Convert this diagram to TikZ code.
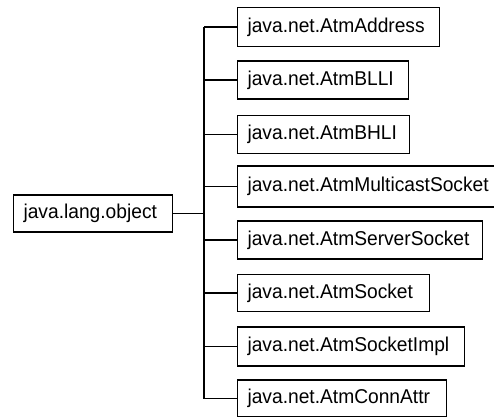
\documentclass[tikz,border=0pt]{standalone}
\usepackage{fontspec}
\setmainfont{Liberation Sans}[FakeStretch=0.96]
\begin{document}
\begin{tikzpicture}[x=1pt,y=-1pt,
  cls/.style={draw=black, line width=1.1pt, anchor=west, inner xsep=10pt, inner ysep=0pt,
    minimum height=39pt, align=left, font=\fontsize{20}{22}\selectfont},
  wire/.style={draw=black, line width=1.1pt}]
\useasboundingbox (0,0) rectangle (494,416);
\clip (0,0) rectangle (494,416);
\node[cls, text width=182pt] (b1) at (237,27) {java.net.AtmAddress};
\node[cls, text width=151pt, minimum height=38pt] (b2) at (237,80) {java.net.AtmBLLI};
\node[cls, text width=152pt, minimum height=38pt] (b3) at (237,134.5) {java.net.AtmBHLI};
\node[cls, text width=250pt, minimum height=41pt] (b4) at (237,186.5) {java.net.AtmMulticastSocket};
\node[cls, text width=225pt, minimum height=38pt] (b5) at (237,240) {java.net.AtmServerSocket};
\node[cls, text width=172pt, minimum height=37pt] (b6) at (237,293) {java.net.AtmSocket};
\node[cls, text width=207pt] (b7) at (237,346.5) {java.net.AtmSocketImpl};
\node[cls, text width=189pt, minimum height=37pt] (b8) at (237,398.5) {java.net.AtmConnAttr};
\node[cls, text width=139pt, minimum height=37pt] (root) at (13,213.5) {java.lang.object};
\coordinate (t) at (204,0);
\draw[wire] (root.east) -- (root.east -| t);
\draw[wire] (t |- b1.west) -- (t |- b8.west);
\foreach \b in {b1,b2,b3,b4,b5,b6,b7,b8}{
  \draw[wire] (t |- \b.west) -- (\b.west);
}
\end{tikzpicture}
\end{document}
